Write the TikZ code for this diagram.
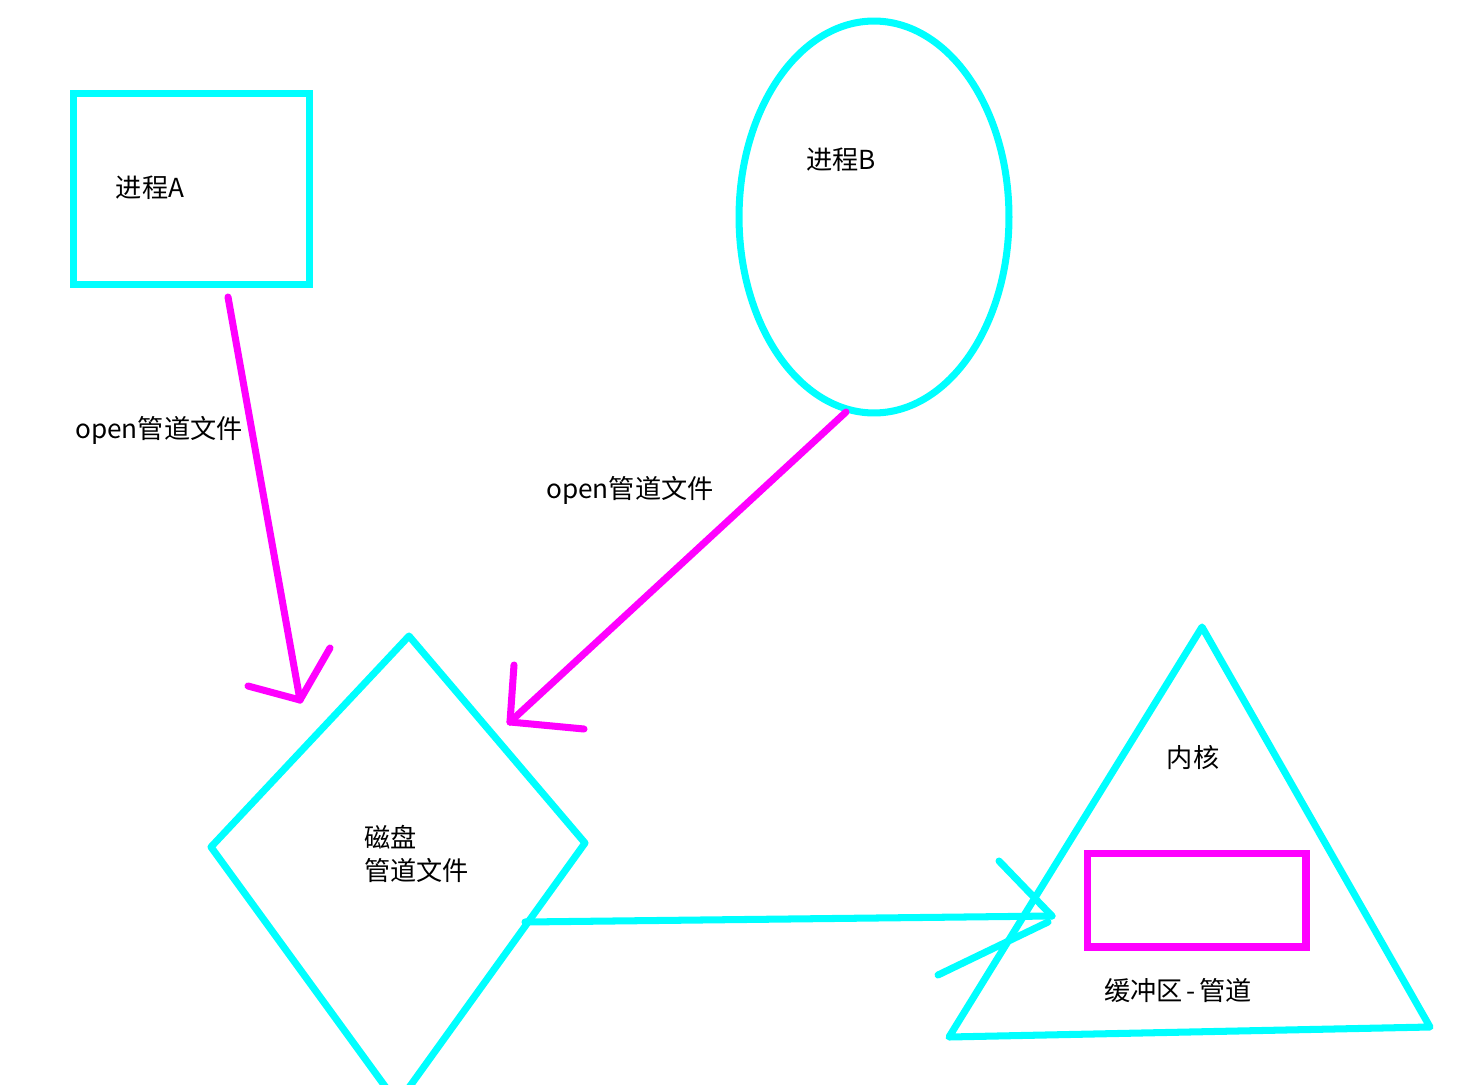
\documentclass[tikz,border=0pt]{standalone}
\usepackage{fontspec}
\setmainfont{Noto Sans CJK SC}
\usetikzlibrary{shapes.geometric, positioning}

\definecolor{qing}{RGB}{0,255,255}
\definecolor{zihong}{RGB}{255,0,255}

\tikzset{
    kuang/.style={draw=qing, line width=4pt},
    hong/.style={draw=zihong, line width=4pt, line cap=round},
    jiantou/.style={draw=qing, line width=4pt, line cap=round},
    wenzi/.style={font=\fontsize{14.9pt}{19pt}\selectfont, inner sep=1pt, align=left}
}

\begin{document}
\begin{tikzpicture}[x=0.02cm, y=-0.02cm]
    \useasboundingbox (0,0) rectangle (1462,1084);

    % processes
    \node (PA) [kuang, rectangle, minimum width=4.74cm, minimum height=3.84cm, inner sep=0] at (191.5,189) {};
    \node (tA) [wenzi] at (150,188) {进程A};
    \node (PB) [kuang, ellipse, minimum width=5.4cm, minimum height=7.84cm, inner sep=0] at (874,217) {};
    \node (tB) [wenzi] at (841,160) {进程B};

    % disk pipe file
    \begin{scope}
        \clip (0,0) rectangle (1462,1084);
        \draw[kuang, line join=round] (395,1100) -- (211,847) -- (409,636) -- (585,843) -- (400,1100);
    \end{scope}
    \node (Ci) [wenzi, anchor=west] at (362,854) {磁盘\\管道文件};

    % kernel
    \draw[kuang, line join=round] (1202,627) -- (949,1037) -- (1430,1027) -- cycle;
    \node (NH) [wenzi] at (1193,758) {内核};
    \node (HC) [draw=zihong, line width=4pt, minimum width=4.38cm, minimum height=1.88cm, inner sep=0] at (1196.5,900) {};
    \node (tHC) [wenzi] at (1178,991) {缓冲区\kern2pt-\kern2pt管道};

    % arrows
    \coordinate (a1) at (228,297);
    \coordinate (a2) at (300,700);
    \draw[hong] (a1) -- (a2);
    \draw[hong] (a2) -- (248,686);
    \draw[hong] (a2) -- (330,648);
    \node (lA) [wenzi, fill=white] at (159,430) {open管道文件};

    \coordinate (b1) at (846,412);
    \coordinate (b2) at (510,722);
    \draw[hong] (b1) -- (b2);
    \draw[hong] (b2) -- (514,665);
    \draw[hong] (b2) -- (584,729);
    \node (lB) [wenzi] at (630,490) {open管道文件};

    \coordinate (c1) at (525,922);
    \coordinate (c2) at (1052,916);
    \draw[jiantou] (c1) -- (c2);
    \draw[jiantou] (c2) -- (999,861);
    \draw[jiantou] (1048,922) -- (938,975);

\end{tikzpicture}
\end{document}
